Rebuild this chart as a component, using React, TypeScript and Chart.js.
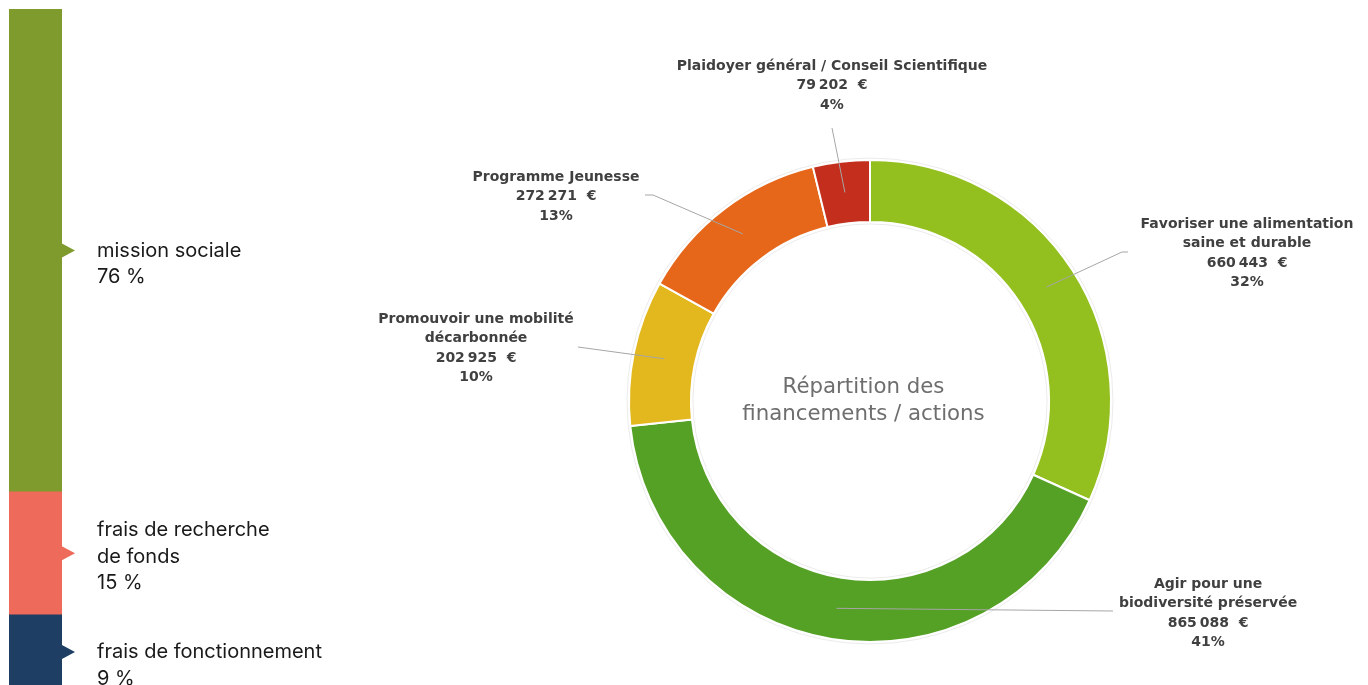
import React, { useEffect, useRef } from 'react';
import { Chart, registerables } from 'chart.js';

Chart.register(...registerables);

// ---------- Left stacked bar (cost structure) ----------
const costCategories = ['mission sociale', 'frais de recherche de fonds', 'frais de fonctionnement'];
const costLabelLines = [['mission sociale'], ['frais de recherche', 'de fonds'], ['frais de fonctionnement']];
const costShareLabels = ['76 %', '15 %', '9 %'];
// segment heights as drawn in the graphic
const costBarHeights = [71, 18.1, 10.9];
const costColors = ['#7F9B2E', '#EE6A5A', '#1E3F63'];

// ---------- Doughnut (funding by action) ----------
const actionNames = [
  ['Favoriser une alimentation', 'saine et durable'],
  ['Agir pour une', 'biodiversité préservée'],
  ['Promouvoir une mobilité', 'décarbonnée'],
  ['Programme Jeunesse'],
  ['Plaidoyer général / Conseil Scientifique'],
];
const actionAmounts = [660443, 865088, 202925, 272271, 79202];
const actionPercentLabels = ['32%', '41%', '10%', '13%', '4%'];
const actionColors = ['#93C01F', '#55A125', '#E3B81F', '#E6661A', '#C42E1C'];
const centerTitle = ['Répartition des', 'financements / actions'];

// ---------- layout (positions / styles, not data) ----------
const costAnchorLine = [0, 0.89, 0];
const costLineHeight = 26.4;
const calloutLayout = [
  { text: [377, -177], path: [[252, -149], [258, -149]] },
  { text: [338, 183], path: [[243, 210]] },
  { text: [-394, -82], path: [[-292, -54]] },
  { text: [-314, -224], path: [[-217, -206], [-225, -206]] },
  { text: [-38, -335], path: [[-38, -273]] },
];
const calloutLineHeight = 19.6;

function formatAmount(v: number) {
  return String(v).replace(/\B(?=(\d{3})+(?!\d))/g, '\u202F') + '  €';
}

export default function App() {
  const barRef = useRef<HTMLCanvasElement>(null);
  const donutRef = useRef<HTMLCanvasElement>(null);

  useEffect(() => {
    const order = [2, 1, 0]; // bottom to top in the stack

    const barLabelPlugin = {
      id: 'barLabels',
      afterDatasetsDraw(chart: any) {
        const ctx = chart.ctx;
        ctx.save();
        order.forEach((catIdx, dsIdx) => {
          const el = chart.getDatasetMeta(dsIdx).data[0];
          const p = el.getProps(['x', 'y', 'base', 'width'], true);
          const cy = (p.y + p.base) / 2;
          const right = p.x + p.width / 2;
          ctx.fillStyle = costColors[catIdx];
          ctx.beginPath();
          ctx.moveTo(right - 1, cy - 7.5);
          ctx.lineTo(right + 13, cy);
          ctx.lineTo(right - 1, cy + 7.5);
          ctx.closePath();
          ctx.fill();
          const lines = [...costLabelLines[catIdx], costShareLabels[catIdx]];
          ctx.fillStyle = '#1A1A1A';
          ctx.font = '20px Inter';
          ctx.textAlign = 'left';
          ctx.textBaseline = 'alphabetic';
          const first = cy + 6.5 - costAnchorLine[catIdx] * costLineHeight;
          lines.forEach((t, k) => ctx.fillText(t, right + 35, first + k * costLineHeight));
        });
        ctx.restore();
      },
    };

    const barChart = new Chart(barRef.current as HTMLCanvasElement, {
      type: 'bar',
      data: {
        labels: ['coûts'],
        datasets: order.map((i) => ({
          label: costCategories[i],
          data: [costBarHeights[i]],
          backgroundColor: costColors[i],
          borderWidth: 0,
          barPercentage: 1,
          categoryPercentage: 1,
        })),
      },
      options: {
        responsive: false,
        animation: false,
        devicePixelRatio: 1,
        layout: { padding: { left: 9, right: 298, top: 9, bottom: 11 } },
        plugins: { legend: { display: false }, tooltip: { enabled: false } },
        scales: {
          x: { stacked: true, display: false },
          y: { stacked: true, display: false, min: 0, max: 100 },
        },
      },
      plugins: [barLabelPlugin],
    } as any);

    const donutPlugin = {
      id: 'donutCallouts',
      afterDatasetsDraw(chart: any) {
        const ctx = chart.ctx;
        const meta = chart.getDatasetMeta(0);
        ctx.save();
        const a0 = meta.data[0].getProps(['x', 'y', 'innerRadius', 'outerRadius'], true);
        // faint rims
        ctx.strokeStyle = '#EBEBEB';
        ctx.lineWidth = 1;
        ctx.beginPath();
        ctx.arc(a0.x, a0.y, a0.outerRadius + 2, 0, Math.PI * 2);
        ctx.stroke();
        ctx.beginPath();
        ctx.arc(a0.x, a0.y, a0.innerRadius - 2, 0, Math.PI * 2);
        ctx.stroke();

        meta.data.forEach((arc: any, i: number) => {
          const p = arc.getProps(['x', 'y', 'startAngle', 'endAngle', 'innerRadius', 'outerRadius'], true);
          const mid = (p.startAngle + p.endAngle) / 2;
          const r = (p.innerRadius + p.outerRadius) / 2;
          const sx = p.x + Math.cos(mid) * r;
          const sy = p.y + Math.sin(mid) * r;
          const L = calloutLayout[i];
          ctx.strokeStyle = '#A6A6A6';
          ctx.lineWidth = 1;
          ctx.beginPath();
          ctx.moveTo(sx, sy);
          L.path.forEach(([dx, dy]) => ctx.lineTo(p.x + dx, p.y + dy));
          ctx.stroke();
          const lines = [...actionNames[i], formatAmount(actionAmounts[i]), actionPercentLabels[i]];
          ctx.fillStyle = '#404040';
          ctx.font = 'bold 14px "DejaVu Sans"';
          ctx.textAlign = 'center';
          ctx.textBaseline = 'middle';
          lines.forEach((t, k) => ctx.fillText(t, p.x + L.text[0], p.y + L.text[1] + k * calloutLineHeight));
        });

        ctx.fillStyle = '#6E6E6E';
        ctx.font = '21.3px "DejaVu Sans"';
        ctx.textAlign = 'center';
        ctx.textBaseline = 'middle';
        centerTitle.forEach((t, k) => ctx.fillText(t, a0.x - 6.5, a0.y - 14 + k * 27));
        ctx.restore();
      },
    };

    const donutChart = new Chart(donutRef.current as HTMLCanvasElement, {
      type: 'doughnut',
      data: {
        labels: actionNames.map((n) => n.join(' ')),
        datasets: [
          {
            data: actionAmounts,
            backgroundColor: actionColors,
            borderColor: '#FFFFFF',
            borderWidth: 2,
          },
        ],
      },
      options: {
        responsive: false,
        animation: false,
        devicePixelRatio: 1,
        radius: 241,
        cutout: '74.3%',
        layout: { padding: { left: 289, right: 257, top: 160, bottom: 43 } },
        plugins: { legend: { display: false }, tooltip: { enabled: false } },
      },
      plugins: [donutPlugin],
    } as any);

    return () => {
      barChart.destroy();
      donutChart.destroy();
    };
  }, []);

  return (
    <div
      style={{
        position: 'absolute',
        left: 0,
        top: 0,
        width: 1368,
        height: 685,
        overflow: 'hidden',
        background: '#FFFFFF',
      }}
    >
      <canvas
        ref={barRef}
        width={360}
        height={700}
        style={{ position: 'absolute', left: 0, top: 0, width: 360, height: 700 }}
      />
      <canvas
        ref={donutRef}
        width={1028}
        height={685}
        style={{ position: 'absolute', left: 340, top: 0, width: 1028, height: 685 }}
      />
    </div>
  );
}
